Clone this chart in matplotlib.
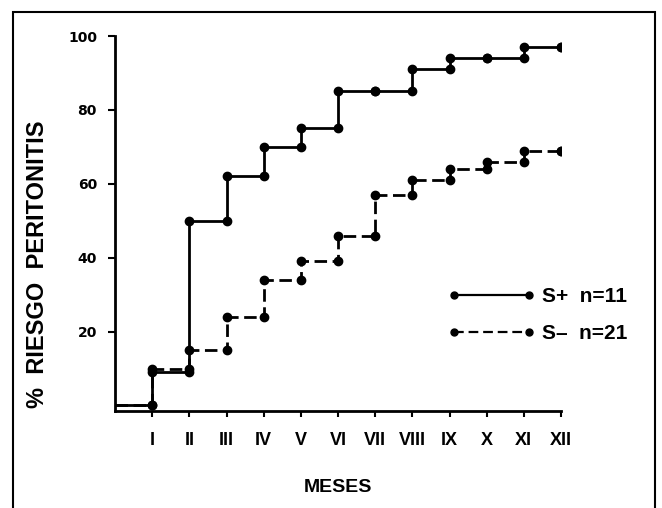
import matplotlib
matplotlib.use("Agg")
import matplotlib.pyplot as plt
from matplotlib.patches import Rectangle

plt.rcParams['font.family'] = ['Liberation Sans', 'DejaVu Sans']
plt.rcParams['lines.scale_dashes'] = False

# riesgo acumulado (%) al final de cada mes
meses = ['I', 'II', 'III', 'IV', 'V', 'VI', 'VII', 'VIII', 'IX', 'X', 'XI', 'XII']
s_pos = [9, 50, 62, 70, 75, 85, 85, 91, 94, 94, 97, 97]
s_neg = [10, 15, 24, 34, 39, 46, 57, 61, 64, 66, 69, 69]
lbl_pos = 'S+  n=11'
lbl_neg = 'S\u2013  n=21'
y_ticks = [20, 40, 60, 80, 100]


def curva(ax, valores, estilo, etiqueta):
    x = list(range(0, len(valores) + 1))
    y = [0] + valores
    ax.step(x, y, where='post', color='black', lw=2.0, linestyle=estilo,
            dashes=(9, 4) if estilo == '--' else (None, None))
    # puntos en ambos extremos de cada salto
    px, py = [], []
    for i in range(1, len(y)):
        px += [x[i], x[i]]
        py += [y[i - 1], y[i]]
    ax.plot(px, py, 'o', color='black', ms=6)
    # handle para la leyenda
    h, = ax.plot([], [], color='black', lw=1.6, linestyle=estilo, marker='o', ms=5,
                 label=etiqueta)
    if estilo == '--':
        h.set_dashes((7, 3.5))
    return h


fig = plt.figure(figsize=(6.62, 5.08), dpi=100)
ax = fig.add_axes([115 / 662, 97 / 508, 446 / 662, 375 / 508])

h1 = curva(ax, s_pos, '-', lbl_pos)
h2 = curva(ax, s_neg, '--', lbl_neg)

ax.set_xlim(0, 12)
ax.set_ylim(-1.5, 100)
ax.set_xticks(range(1, 13))
ax.set_xticklabels(meses, fontsize=13, fontweight='bold')
ax.set_yticks(y_ticks)
ax.set_yticklabels([str(v) for v in y_ticks], fontsize=10, fontweight='bold',
                   family='DejaVu Sans')
ax.tick_params(axis='x', direction='out', length=4, width=1.5, pad=11)
ax.tick_params(axis='y', direction='out', length=5, width=1.5, pad=8)

for s in ['top', 'right']:
    ax.spines[s].set_visible(False)
for s in ['left', 'bottom']:
    ax.spines[s].set_linewidth(2.0)

ax.set_xlabel('MESES', fontsize=14, fontweight='bold', labelpad=22)
fig.text(38 / 662, 1 - 264 / 508, '%  RIESGO  PERITONITIS', rotation=90,
         ha='center', va='center', fontsize=17, fontweight='bold')

ax.legend(handles=[h1, h2], loc='upper left', bbox_to_anchor=(0.747, 0.33),
          frameon=False, numpoints=2, fontsize=15, handlelength=4.2,
          handletextpad=0.3, labelspacing=0.85, borderaxespad=0, borderpad=0,
          prop={'size': 15, 'weight': 'bold'})

# marco de la figura
fig.patches.append(Rectangle((13 / 662, -0.02), 642 / 662, 0.02 + 1 - 12 / 508,
                             transform=fig.transFigure, fill=False, lw=1.5,
                             edgecolor='black'))

fig.savefig('out.png', dpi=100)
